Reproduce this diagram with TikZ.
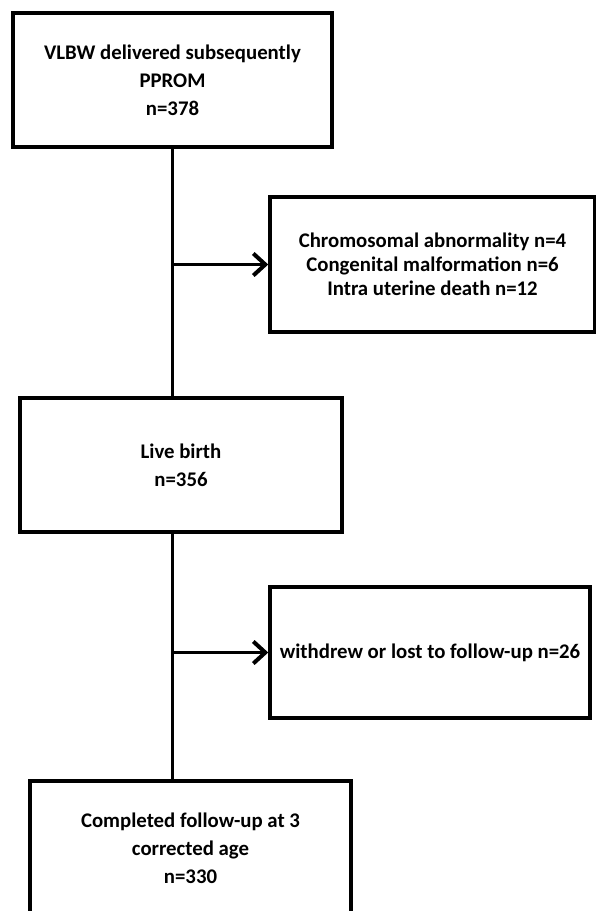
\documentclass[tikz,border=0pt]{standalone}
\usepackage{fontspec}
\setmainfont{Carlito}
\usetikzlibrary{arrows.meta}
\tikzset{
  box/.style={draw=black, line width=3.5pt, rectangle, inner sep=0pt, align=center,
    font=\fontsize{20.8}{28}\selectfont\bfseries},
  sidebox/.style={box, font=\fontsize{20.8}{24}\selectfont\bfseries},
  conn/.style={draw=black, line width=3.5pt},
  arr/.style={conn, -{Straight Barb[length=12pt,width=22pt,line width=4pt]}}
}
\begin{document}
\begin{tikzpicture}[x=1pt,y=1pt]
\clip (0,0) rectangle (596,-911);
\fill[white] (0,0) rectangle (596,-911);
\node[box, minimum width=319pt, minimum height=134pt] (b1) at (172.5,-80) {VLBW delivered subsequently\\PPROM\\n=378};
\node[sidebox, minimum width=325pt, minimum height=135pt] (b2) at (432.5,-264.5) {Chromosomal abnormality n=4\\Congenital malformation n=6\\Intra uterine death n=12};
\node[box, minimum width=322pt, minimum height=134pt] (b3) at (181,-465) {Live birth\\n=356};
\node[box, minimum width=320pt, minimum height=131pt] (b4) at (430,-652.5) {withdrew or lost to follow-up n=26};
\node[box, minimum width=321pt, minimum height=134pt] (b5) at (190.5,-848) {Completed follow-up at 3\\corrected age\\n=330};
\draw[conn] (b1.south) -- (b1.south |- b3.north);
\draw[conn] (b1.south |- b3.south) -- (b1.south |- b5.north);
\draw[arr] (b1.south |- b2.west) -- (b2.west);
\draw[arr] (b1.south |- b4.west) -- (b4.west);
\end{tikzpicture}
\end{document}
